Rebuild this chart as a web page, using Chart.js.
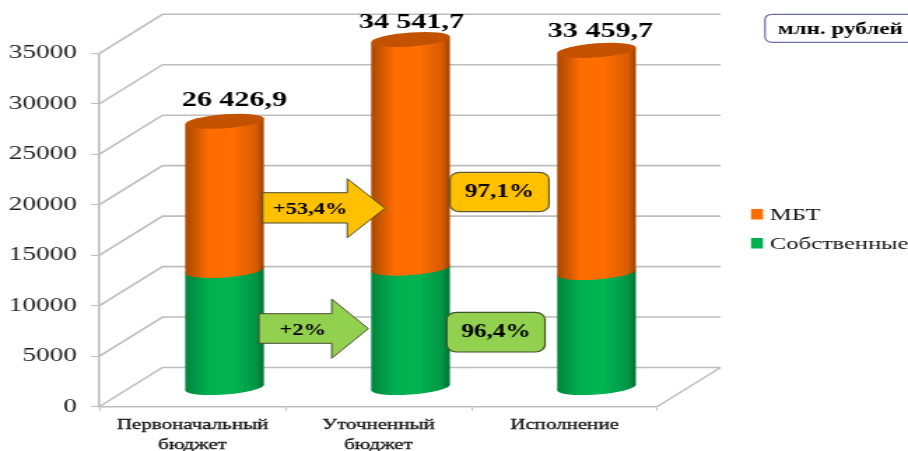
<!DOCTYPE html>
<html>
<head>
<meta charset="utf-8">
<style>
  html, body { margin: 0; padding: 0; background: #fff; overflow: hidden; }
  #wrap { width: 649px; height: 451px; transform-origin: 0 0; transform: scaleX(1.39908); }
</style>
<script src="https://cdn.jsdelivr.net/npm/chart.js@4/dist/chart.umd.min.js"></script>
</head>
<body>
<div id="wrap"><canvas id="chart" width="649" height="451"></canvas></div>
<script>
// Data
const categories = [['Первоначальный', 'бюджет'], ['Уточненный', 'бюджет'], 'Исполнение'];
const ownValues = [11650, 11880, 11450];
const mbtValues = [14776.9, 22661.7, 22009.7];
const totalLabels = ['26 426,9', '34 541,7', '33 459,7'];
const seriesNames = ['Собственные', 'МБТ'];

// The reference is stretched sideways, so the canvas is too. Page pixels -> canvas pixels
const S = 908 / 649;
const px = x => x / S;
const FONT = '"Liberation Serif", "Times New Roman", serif';
const DEPTH_X = px(63), DEPTH_Y = 39;   // back wall offset
const BAR_X = px(32), BAR_Y = 18.5;     // bars stand in the middle of the floor
const SKEW = -0.1, CAP_RY = 7;

function barGradient(ctx, stops) {
    const chart = ctx.chart;
    if (!chart.chartArea || ctx.dataIndex === undefined) return stops[1][1];
    const x = chart.scales.x.getPixelForValue(ctx.dataIndex);
    const half = chart.scales.x.width / 3 * 0.423 / 2;
    const g = chart.ctx.createLinearGradient(x - half, 0, x + half, 0);
    stops.forEach(s => g.addColorStop(s[0], s[1]));
    return g;
}
const orangeStops = [[0, '#a84800'], [0.3, '#ff6d00'], [0.6, '#ff6d00'], [0.9, '#d95c00'], [1, '#9a4300']];
const greenStops = [[0, '#00853c'], [0.3, '#00b050'], [0.6, '#00b552'], [0.9, '#009644'], [1, '#006f33']];

function roundBox(c, x0, y0, x1, y1, r, fill, stroke) {
    c.beginPath();
    c.roundRect(px(x0), y0, px(x1 - x0), y1 - y0, r);
    c.fillStyle = fill;
    c.fill();
    c.strokeStyle = stroke;
    c.lineWidth = 1.2;
    c.stroke();
}

function arrow(c, a) {
    c.beginPath();
    c.moveTo(px(a.left), a.tailTop);
    c.lineTo(px(a.headX), a.tailTop);
    c.lineTo(px(a.headX), a.headTop);
    c.lineTo(px(a.tipX), a.tipY);
    c.lineTo(px(a.headX), a.headBottom);
    c.lineTo(px(a.headX), a.tailBottom);
    c.lineTo(px(a.left), a.tailBottom);
    c.closePath();
    c.fillStyle = a.fill;
    c.fill();
    c.strokeStyle = '#4d4d33';
    c.lineWidth = 1;
    c.stroke();
}

function label(c, text, x, y, font, align) {
    c.font = font;
    c.fillStyle = '#000';
    c.textAlign = align || 'center';
    c.textBaseline = 'middle';
    c.fillText(text, px(x), y);
}

// Perspective walls behind the bars
const wallsPlugin = {
    id: 'walls',
    beforeDatasetsDraw(chart) {
        const c = chart.ctx, y = chart.scales.y, a = chart.chartArea;
        c.save();
        c.strokeStyle = '#bdbdbd';
        c.lineWidth = 1.6;
        y.ticks.forEach(t => {
            const py = y.getPixelForValue(t.value);
            c.beginPath();
            c.moveTo(a.left, py);
            c.lineTo(a.left + DEPTH_X, py - DEPTH_Y);
            c.lineTo(a.right + DEPTH_X, py - DEPTH_Y);
            c.stroke();
        });
        const base = y.getPixelForValue(0);
        c.beginPath();
        c.moveTo(a.right, base);
        c.lineTo(a.right + DEPTH_X, base - DEPTH_Y);
        c.stroke();
        c.restore();
    }
};

// Draws the library's bars moved back and skewed, with the elliptical ends of the cylinders.
// Green has to go first here so the curved bottom of the orange part lies over it
const cylinderPlugin = {
    id: 'cylinder',
    beforeDatasetDraw() {
        return false;
    },
    afterDatasetsDraw(chart) {
        const c = chart.ctx;
        seriesNames.forEach((name, index) => {
            const top = name === 'МБТ';
            chart.getDatasetMeta(index).data.forEach((bar, i) => {
                const fill = barGradient({ chart: chart, dataIndex: i }, top ? orangeStops : greenStops);
                c.save();
                c.translate(bar.x + BAR_X, -BAR_Y);
                c.transform(1, SKEW, 0, 1, 0, 0);
                c.translate(-bar.x, 0);
                bar.draw(c);
                c.fillStyle = fill;
                c.beginPath();
                c.ellipse(bar.x, bar.base, bar.width / 2, CAP_RY, 0, 0, Math.PI * 2);
                c.fill();
                if (top) {
                    c.fillStyle = '#c25200';
                    c.beginPath();
                    c.ellipse(bar.x, bar.y, bar.width / 2, CAP_RY, 0, 0, Math.PI * 2);
                    c.fill();
                }
                c.restore();
            });
        });
    }
};

// Totals, arrows, boxes and the legend
const overlayPlugin = {
    id: 'overlay',
    afterDraw(chart) {
        const c = chart.ctx;
        c.save();

        // totals above the bars
        const meta = chart.getDatasetMeta(seriesNames.indexOf('МБТ'));
        const shiftX = [10, 1, 4], shiftY = [-21, -17, -19];
        totalLabels.forEach((text, i) => {
            const bar = meta.data[i];
            c.font = 'bold 21.5px ' + FONT;
            c.fillStyle = '#000';
            c.textAlign = 'center';
            c.textBaseline = 'middle';
            c.fillText(text, bar.x + BAR_X + px(shiftX[i]), bar.y - BAR_Y + shiftY[i]);
        });

        arrow(c, { left: 262.7, headX: 347.3, tipX: 385, tipY: 208.3, tailTop: 192.7, tailBottom: 223, headTop: 178.7, headBottom: 237.7, fill: '#ffc000' });
        label(c, '+53,4%', 310, 210, 'bold 16px ' + FONT);
        arrow(c, { left: 259, headX: 331.7, tipX: 368.3, tipY: 328.7, tailTop: 313.7, tailBottom: 343.3, headTop: 299, headBottom: 358.3, fill: '#92d050' });
        label(c, '+2%', 302.7, 331, 'bold 16px ' + FONT);

        roundBox(c, 450, 172.3, 549, 211.7, 7, '#ffc000', '#5a5a3a');
        label(c, '97,1%', 499.5, 192, 'bold 18px ' + FONT);
        roundBox(c, 446.7, 312.3, 545, 352, 7, '#92d050', '#3f4f2a');
        label(c, '96,4%', 495.8, 332, 'bold 18px ' + FONT);

        roundBox(c, 765, 14.3, 925, 42.3, 5, '#fff', '#6a6ea8');
        label(c, 'млн. рублей', 778, 30, 'bold 16.5px ' + FONT, 'left');

        // legend
        const rows = [['МБТ', '#ff6d00', 215], ['Собственные', '#00b050', 244]];
        rows.forEach(r => {
            c.fillStyle = r[1];
            c.fillRect(px(751), r[2] - 6, px(12), 10.5);
            c.font = '17.5px ' + FONT;
            c.fillStyle = '#111';
            c.textAlign = 'left';
            c.textBaseline = 'middle';
            c.fillText(r[0], px(770), r[2]);
        });
        c.restore();
    }
};

new Chart(document.getElementById('chart').getContext('2d'), {
    type: 'bar',
    data: {
        labels: categories,
        datasets: [
            {
                label: seriesNames[0],
                data: ownValues,
                backgroundColor: ctx => barGradient(ctx, greenStops)
            },
            {
                label: seriesNames[1],
                data: mbtValues,
                backgroundColor: ctx => barGradient(ctx, orangeStops)
            }
        ]
    },
    options: {
        responsive: false,
        animation: false,
        layout: { padding: { top: 53.3, right: 649 - px(657.5), left: 0, bottom: 0 } },
        datasets: { bar: { categoryPercentage: 1, barPercentage: 0.423 } },
        plugins: { legend: { display: false }, tooltip: { enabled: false } },
        scales: {
            x: {
                stacked: true,
                afterFit: s => { s.height = 44.5; },
                border: { color: '#bdbdbd', width: 1.6 },
                grid: { drawOnChartArea: false, color: '#bdbdbd', tickLength: 4 },
                ticks: {
                    autoSkip: false,
                    maxRotation: 0,
                    padding: 5,
                    color: '#111',
                    textStrokeColor: '#111',
                    textStrokeWidth: 0.3,
                    font: { family: FONT, size: 15, weight: 'normal', lineHeight: 1.3 }
                }
            },
            y: {
                stacked: true,
                min: 0,
                max: 35000,
                afterFit: s => { s.width = px(99.5); },
                border: { color: '#bdbdbd', width: 1.6 },
                grid: { drawOnChartArea: false, color: '#bdbdbd', tickLength: 6 },
                ticks: {
                    stepSize: 5000,
                    padding: 10,
                    color: '#222',
                    font: { family: FONT, size: 19.5 },
                    callback: v => String(v)
                }
            }
        }
    },
    plugins: [wallsPlugin, cylinderPlugin, overlayPlugin]
});
</script>
</body>
</html>
